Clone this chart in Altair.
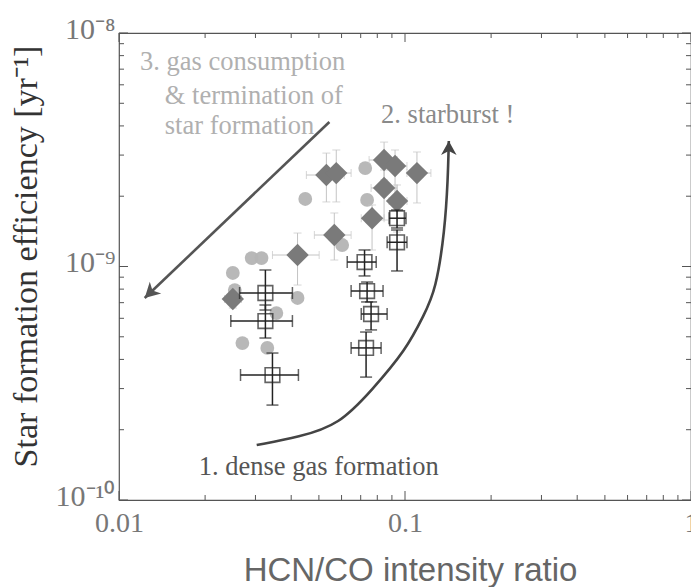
import altair as alt
import pandas as pd

# ---------------- data ----------------
# open squares (with black error bars)
sq_x = [0.0325, 0.0325, 0.0344, 0.0722, 0.0737, 0.0761, 0.0731, 0.0938, 0.0938]
sq_y = [7.70e-10, 5.84e-10, 3.43e-10, 1.045e-9, 7.85e-10, 6.26e-10, 4.48e-10, 1.61e-9, 1.27e-9]
sq_xlo = [0.0264, 0.0246, 0.0266, 0.0628, 0.0648, 0.0703, 0.0648, 0.0880, 0.0866]
sq_xhi = [0.0404, 0.0404, 0.0424, 0.0793, 0.0838, 0.0866, 0.0825, 0.1008, 0.1016]
sq_ylo = [6.51e-10, 4.94e-10, 2.55e-10, 9.11e-10, 7.05e-10, 5.35e-10, 3.36e-10, 1.462e-9, 9.57e-10]
sq_yhi = [9.66e-10, 6.84e-10, 4.26e-10, 1.177e-9, 8.58e-10, 7.05e-10, 5.24e-10, 1.746e-9, 1.433e-9]

# dark grey diamonds (with light grey error bars)
dia_x = [0.0531, 0.0575, 0.0845, 0.0923, 0.1101, 0.0845, 0.0938, 0.0767, 0.0566, 0.0421, 0.0250]
dia_y = [2.465e-9, 2.513e-9, 2.858e-9, 2.694e-9, 2.513e-9, 2.169e-9, 1.908e-9, 1.61e-9, 1.364e-9, 1.12e-9, 7.26e-10]
dia_xlo = [0.0452, 0.0510, 0.0749, 0.0845, 0.1016, 0.0761, 0.0880, 0.0703, 0.0482, 0.0344, 0.0234]
dia_xhi = [0.0613, 0.0648, 0.0938, 0.1016, 0.1232, 0.0938, 0.1016, 0.0845, 0.0648, 0.0501, 0.0268]
dia_ylo = [1.89e-9, 1.89e-9, 2.346e-9, 1.834e-9, 1.871e-9, 1.581e-9, 1.405e-9, 1.177e-9, 1.066e-9, 8.33e-10, 6.64e-10]
dia_yhi = [3.06e-9, 3.155e-9, 3.41e-9, 3.155e-9, 3.093e-9, 2.59e-9, 2.234e-9, 1.834e-9, 1.695e-9, 1.391e-9, 7.93e-10]

# light grey circles
cir_x = [0.0726, 0.0737, 0.0448, 0.0603, 0.0291, 0.0315, 0.0250, 0.0254, 0.0421, 0.0355, 0.0270, 0.0330]
cir_y = [2.641e-9, 1.927e-9, 1.946e-9, 1.236e-9, 1.087e-9, 1.087e-9, 9.38e-10, 7.93e-10, 7.33e-10, 6.32e-10, 4.70e-10, 4.48e-10]

# annotation arrows (data space)
arrow3_x = [0.0544, 0.0123]
arrow3_y = [4.16e-9, 7.33e-10]
curve_x = [0.0303, 0.0427, 0.0589, 0.0767, 0.1008, 0.1165, 0.1282, 0.1378, 0.1412, 0.1423]
curve_y = [1.72e-10, 1.86e-10, 2.10e-10, 2.96e-10, 4.39e-10, 6.20e-10, 7.93e-10, 1.43e-9, 2.35e-9, 3.45e-9]

# annotation texts
note_text = ["3. gas consumption", "& termination of", "star formation", "2. starburst !", "1. dense gas formation"]
note_x = [0.01184, 0.01446, 0.01446, 0.0825, 0.0190]
note_y = [7.51e-9, 5.37e-9, 4.00e-9, 4.46e-9, 1.384e-10]
note_color = ["#b0b0b0", "#b0b0b0", "#b0b0b0", "#8a8a8a", "#555555"]

# axes
x_major = [0.01, 0.1, 1.0]
x_minor = [0.02, 0.03, 0.04, 0.05, 0.06, 0.07, 0.08, 0.09, 0.2, 0.3, 0.4, 0.5, 0.6, 0.7, 0.8, 0.9]
y_major = [1e-10, 1e-9, 1e-8]
y_minor = [2e-10, 3e-10, 4e-10, 5e-10, 6e-10, 7e-10, 8e-10, 9e-10,
           2e-9, 3e-9, 4e-9, 5e-9, 6e-9, 7e-9, 8e-9, 9e-9]
y_tick_labels = ["10⁻¹⁰", "10⁻⁹", "10⁻⁸"]

# ---------------- chart ----------------
W, H = 572, 467
SERIF = "Liberation Serif"

xs = alt.Scale(type="log", domain=[0.01, 1], nice=False)
ys = alt.Scale(type="log", domain=[1e-10, 1e-8], nice=False)

ylabel_expr = ("datum.value < 5e-10 ? '%s' : (datum.value < 5e-9 ? '%s' : '%s')"
               % tuple(y_tick_labels))

XA = alt.Axis(values=x_major, format=".2~f", grid=False, ticks=False, domain=False,
              labelFont=SERIF, labelFontSize=28, labelColor="#777777",
              labelPadding=9, labelFlush=False, labelOverlap=False,
              title="HCN/CO intensity ratio", titleFont="Liberation Sans",
              titleFontSize=33, titleFontWeight="normal", titleColor="#666666",
              titleX=291, titleY=80, titleAlign="center", titleBaseline="alphabetic")
YA = alt.Axis(values=y_major, labelExpr=ylabel_expr, grid=False, ticks=False,
              domain=False, labelFont=SERIF, labelFontSize=30, labelColor="#777777",
              labelPadding=4, labelFlush=False, labelOverlap=False,
              labelBaseline="middle", labelOffset=-4,
              title="Star formation efficiency [yr⁻¹]", titleFont=SERIF,
              titleFontSize=34, titleFontWeight="normal", titleColor="#333333",
              titleAngle=270, titleX=-93, titleY=223, titleAlign="center",
              titleBaseline="middle")


def X(field):
    return alt.X(field, scale=xs, axis=XA)


def Y(field):
    return alt.Y(field, scale=ys, axis=YA)


sq = pd.DataFrame({"x": sq_x, "y": sq_y, "xlo": sq_xlo, "xhi": sq_xhi, "ylo": sq_ylo, "yhi": sq_yhi})
dia = pd.DataFrame({"x": dia_x, "y": dia_y, "xlo": dia_xlo, "xhi": dia_xhi, "ylo": dia_ylo, "yhi": dia_yhi})
cir = pd.DataFrame({"x": cir_x, "y": cir_y})

cir_pts = alt.Chart(cir).mark_point(filled=True, color="#b4b4b4", size=190,
                                    shape="circle", opacity=0.95).encode(x=X("x:Q"), y=Y("y:Q"))


def hbars(df, color, width, cap):
    return alt.Chart(df).mark_errorbar(ticks=True, color=color, thickness=width, size=cap).encode(
        x=X("xlo:Q"), x2="xhi:Q", y=Y("y:Q"))


def vbars(df, color, width, cap):
    return alt.Chart(df).mark_errorbar(ticks=True, color=color, thickness=width, size=cap).encode(
        y=Y("ylo:Q"), y2="yhi:Q", x=X("x:Q"))


dia_eb = hbars(dia, "#c4c4c4", 1, 8) + vbars(dia, "#c4c4c4", 1, 8)
dia_pts = alt.Chart(dia).mark_point(filled=True, shape="diamond", color="#7a7a7a", size=500,
                                    opacity=1).encode(x=X("x:Q"), y=Y("y:Q"))
sq_eb = hbars(sq, "#222222", 1.5, 12) + vbars(sq, "#222222", 1.5, 12)
sq_pts = alt.Chart(sq).mark_point(filled=False, shape="square", color="#222222", size=215,
                                  strokeWidth=1.6).encode(x=X("x:Q"), y=Y("y:Q"))

# arrows
a3 = pd.DataFrame({"x": arrow3_x, "y": arrow3_y, "o": [0, 1]})
a3_line = alt.Chart(a3).mark_line(color="#555555", strokeWidth=2.6).encode(
    x=X("x:Q"), y=Y("y:Q"), order="o:Q")
HEAD = "M 0 0 L 0.55 1 L 0 0.72 L -0.55 1 Z"
a3_head = alt.Chart(a3.iloc[[1]]).mark_point(shape=HEAD, filled=True, color="#555555",
                                             size=900, angle=226, opacity=1).encode(
    x=X("x:Q"), y=Y("y:Q"))

cv = pd.DataFrame({"x": curve_x, "y": curve_y, "o": list(range(len(curve_x)))})
cv_line = alt.Chart(cv).mark_line(color="#444444", strokeWidth=2.6, interpolate="basis").encode(
    x=X("x:Q"), y=Y("y:Q"), order="o:Q")
cv_head = alt.Chart(cv.iloc[[-1]]).mark_point(shape=HEAD, filled=True, color="#444444",
                                              size=800, angle=0, opacity=1).encode(
    x=X("x:Q"), y=Y("y:Q"))

# texts
notes = pd.DataFrame({"x": note_x, "y": note_y, "t": note_text, "c": note_color})
note_layer = alt.Chart(notes).mark_text(font=SERIF, fontSize=26.5, align="left",
                                        baseline="middle").encode(
    x=X("x:Q"), y=Y("y:Q"), text="t:N", color=alt.Color("c:N", scale=None))


# inward ticks on all four sides
def xticks(vals, length):
    d = pd.DataFrame({"v": vals})
    bot = alt.Chart(d).mark_rule(color="#555555", strokeWidth=1).encode(
        x=X("v:Q"), y=alt.value(H), y2=alt.value(H - length))
    top = alt.Chart(d).mark_rule(color="#555555", strokeWidth=1).encode(
        x=X("v:Q"), y=alt.value(0), y2=alt.value(length))
    return bot + top


def yticks(vals, length):
    d = pd.DataFrame({"v": vals})
    left = alt.Chart(d).mark_rule(color="#555555", strokeWidth=1).encode(
        y=Y("v:Q"), x=alt.value(0), x2=alt.value(length))
    right = alt.Chart(d).mark_rule(color="#555555", strokeWidth=1).encode(
        y=Y("v:Q"), x=alt.value(W), x2=alt.value(W - length))
    return left + right


ticks = xticks(x_major, 9) + xticks(x_minor, 5) + yticks(y_major, 9) + yticks(y_minor, 5)

chart = alt.layer(
    cir_pts, dia_eb, dia_pts, sq_eb, sq_pts, a3_line, a3_head, cv_line, cv_head,
    note_layer, ticks
).properties(
    width=W, height=H,
    autosize=alt.AutoSizeParams(type="none"),
    padding={"left": 119, "top": 33, "right": 0, "bottom": 87},
    background="white",
).configure_view(stroke="#555555", strokeWidth=1.2)

chart.save("out.html", embed_options={"renderer": "svg", "actions": False})
